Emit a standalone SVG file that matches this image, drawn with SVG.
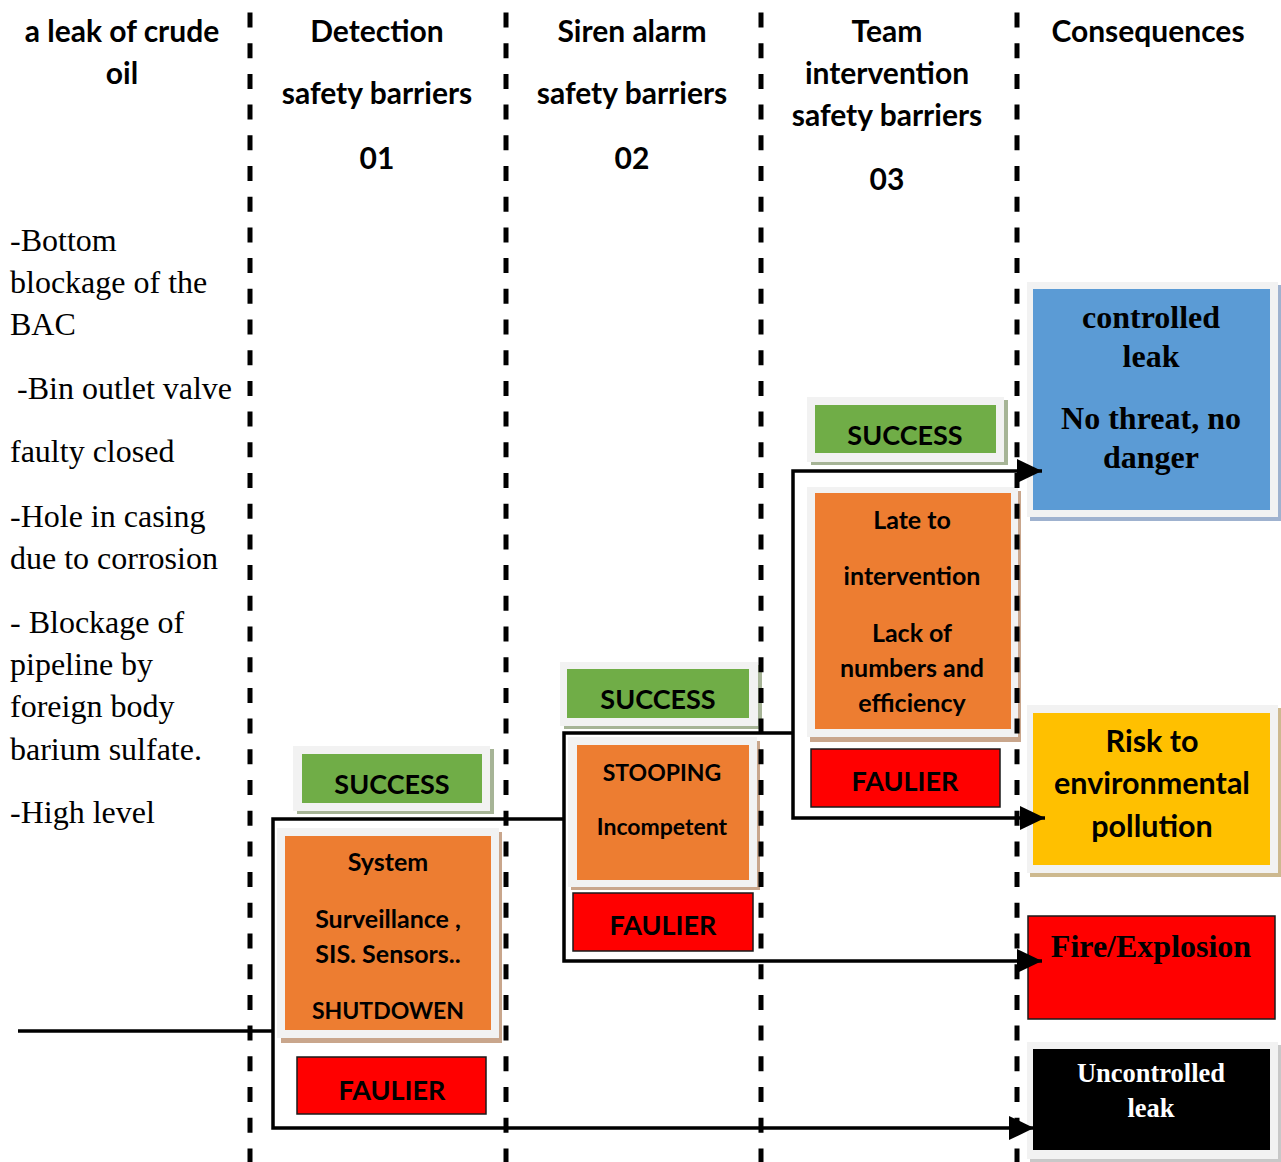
<svg xmlns="http://www.w3.org/2000/svg" width="1281" height="1162" viewBox="0 0 1281 1162">
  <defs>
    <style>
      .hdr { font-family: Lato, "Open Sans", sans-serif; font-weight: bold; font-size: 30px; fill: #000; text-anchor: middle; }
      .cause { font-family: "Liberation Serif", "Times New Roman", serif; font-size: 32px; fill: #000; }
      .lbl { font-family: Lato, "Open Sans", sans-serif; font-weight: bold; font-size: 27px; fill: #000; text-anchor: middle; }
      .small { font-family: Lato, "Open Sans", sans-serif; font-weight: bold; font-size: 25px; fill: #000; text-anchor: middle; }
      .serif { font-family: "Liberation Serif", "Times New Roman", serif; font-weight: bold; fill: #000; text-anchor: middle; }
      .frame { fill: #f2f2f2; }
      .green { fill: #70ad47; }
      .orange { fill: #ed7d31; }
      .fail { fill: #ff0000; stroke: #1a1a1a; stroke-width: 1.5; }
      .divider { stroke: #000; stroke-width: 5; stroke-dasharray: 15 15.7; stroke-dashoffset: -12.5; fill: none; }
      .conn { stroke: #000; stroke-width: 3.5; fill: none; stroke-linejoin: miter; }
    </style>
    <marker id="arrow" markerUnits="userSpaceOnUse" markerWidth="26" markerHeight="26" refX="25" refY="12" orient="auto">
      <path d="M0,0 L25,12 L0,24 Z" fill="#000"/>
    </marker>
  </defs>

  <!-- column headers -->
  <g id="headers">
    <text class="hdr" x="122" y="42">a leak of crude</text>
    <text class="hdr" x="122" y="84">oil</text>
    <text class="hdr" x="377" y="42">Detection</text>
    <text class="hdr" x="377" y="104">safety barriers</text>
    <text class="hdr" x="377" y="169">01</text>
    <text class="hdr" x="632" y="42">Siren alarm</text>
    <text class="hdr" x="632" y="104">safety barriers</text>
    <text class="hdr" x="632" y="169">02</text>
    <text class="hdr" x="887" y="42">Team</text>
    <text class="hdr" x="887" y="84">intervention</text>
    <text class="hdr" x="887" y="126">safety barriers</text>
    <text class="hdr" x="887" y="190">03</text>
    <text class="hdr" x="1148" y="42">Consequences</text>
  </g>

  <!-- initiating causes -->
  <g id="causes">
    <text class="cause" x="10" y="251">-Bottom</text>
    <text class="cause" x="10" y="293">blockage of the</text>
    <text class="cause" x="10" y="335">BAC</text>
    <text class="cause" x="17" y="399">-Bin outlet valve</text>
    <text class="cause" x="10" y="462">faulty closed</text>
    <text class="cause" x="10" y="527">-Hole in casing</text>
    <text class="cause" x="10" y="569">due to corrosion</text>
    <text class="cause" x="10" y="633">- Blockage of</text>
    <text class="cause" x="10" y="675">pipeline by</text>
    <text class="cause" x="10" y="717">foreign body</text>
    <text class="cause" x="10" y="760">barium sulfate.</text>
    <text class="cause" x="10" y="823">-High level</text>
  </g>

  <!-- barrier 01 -->
  <g id="success-01">
    <rect x="297" y="749" width="197" height="65" fill="#a6b496"/>
    <rect class="frame" x="293" y="746" width="197" height="65"/>
    <rect class="green" x="302" y="754" width="180" height="49"/>
    <text class="lbl" x="392" y="794">SUCCESS</text>
  </g>
  <g id="barrier-01">
    <rect x="281" y="832" width="221" height="211" fill="#c9a68c"/>
    <rect class="frame" x="277" y="828" width="222" height="210"/>
    <rect class="orange" x="285" y="836" width="206" height="194"/>
    <text class="small" x="388" y="871">System</text>
    <text class="small" x="388" y="928">Surveillance ,</text>
    <text class="small" x="388" y="963">SIS. Sensors..</text>
    <text class="small" x="388" y="1019" style="font-size:23px">SHUTDOWEN</text>
  </g>
  <g id="failure-01">
    <rect class="fail" x="297" y="1057" width="189" height="57"/>
    <text class="lbl" x="392" y="1100">FAULIER</text>
  </g>

  <!-- barrier 02 -->
  <g id="success-02">
    <rect x="564" y="665" width="198" height="64" fill="#a6b496"/>
    <rect class="frame" x="560" y="662" width="198" height="64"/>
    <rect class="green" x="567" y="669" width="182" height="49"/>
    <text class="lbl" x="658" y="709">SUCCESS</text>
  </g>
  <g id="barrier-02">
    <rect x="571" y="741" width="189" height="149" fill="#c9a68c"/>
    <rect class="frame" x="568" y="737" width="189" height="150"/>
    <rect class="orange" x="577" y="745" width="172" height="135"/>
    <text class="small" x="662" y="781" style="font-size:23px">STOOPING</text>
    <text class="small" x="662" y="835" style="font-size:23px">Incompetent</text>
  </g>
  <g id="failure-02">
    <rect class="fail" x="573" y="893" width="180" height="58"/>
    <text class="lbl" x="663" y="935">FAULIER</text>
  </g>

  <!-- barrier 03 -->
  <g id="success-03">
    <rect x="811" y="400" width="197" height="65" fill="#a6b496"/>
    <rect class="frame" x="807" y="397" width="197" height="65"/>
    <rect class="green" x="815" y="405" width="181" height="48"/>
    <text class="lbl" x="905" y="445">SUCCESS</text>
  </g>
  <g id="barrier-03">
    <rect x="810" y="491" width="211" height="251" fill="#c9a68c"/>
    <rect class="frame" x="807" y="487" width="211" height="250"/>
    <rect class="orange" x="815" y="493" width="196" height="236"/>
    <text class="small" x="912" y="529">Late to</text>
    <text class="small" x="912" y="585">intervention</text>
    <text class="small" x="912" y="642">Lack of</text>
    <text class="small" x="912" y="677">numbers and</text>
    <text class="small" x="912" y="712">efficiency</text>
  </g>
  <g id="failure-03">
    <rect class="fail" x="811" y="749" width="189" height="58"/>
    <text class="lbl" x="905" y="791">FAULIER</text>
  </g>

  <!-- consequences -->
  <g id="controlled-leak">
    <rect x="1030" y="285" width="251" height="236" fill="#9fb2cf"/>
    <rect class="frame" x="1027" y="282" width="251" height="235"/>
    <rect x="1033" y="289" width="237" height="221" fill="#5b9bd5"/>
    <text class="serif" x="1151" y="328" font-size="32">controlled</text>
    <text class="serif" x="1151" y="367" font-size="32">leak</text>
    <text class="serif" x="1151" y="429" font-size="32">No threat, no</text>
    <text class="serif" x="1151" y="468" font-size="32">danger</text>
  </g>
  <g id="environmental-risk">
    <rect x="1030" y="708" width="251" height="169" fill="#cdb98f"/>
    <rect class="frame" x="1027" y="705" width="251" height="168"/>
    <rect x="1033" y="713" width="237" height="152" fill="#ffc000"/>
    <text class="lbl" x="1152" y="752" style="font-size:30.5px">Risk to</text>
    <text class="lbl" x="1152" y="794" style="font-size:30.5px">environmental</text>
    <text class="lbl" x="1152" y="837" style="font-size:30.5px">pollution</text>
  </g>
  <g id="fire-explosion">
    <rect class="fail" x="1028" y="916" width="247" height="103"/>
    <text class="serif" x="1151" y="957" font-size="32">Fire/Explosion</text>
  </g>
  <g id="uncontrolled-leak">
    <rect x="1030" y="1045" width="251" height="117" fill="#c8c8c8"/>
    <rect class="frame" x="1027" y="1042" width="251" height="117"/>
    <rect x="1033" y="1049" width="237" height="101" fill="#000"/>
    <text class="serif" x="1151" y="1082" font-size="26.5" style="fill:#fff">Uncontrolled</text>
    <text class="serif" x="1151" y="1117" font-size="26.5" style="fill:#fff">leak</text>
  </g>

  <!-- column dividers -->
  <g id="dividers">
    <line class="divider" x1="250" y1="0" x2="250" y2="1162"/>
    <line class="divider" x1="506" y1="0" x2="506" y2="1162"/>
    <line class="divider" x1="761" y1="0" x2="761" y2="1162"/>
    <line class="divider" x1="1017" y1="0" x2="1017" y2="1162"/>
  </g>

  <!-- event tree branches -->
  <g id="connectors">
    <path class="conn" d="M18,1031 H273"/>
    <path class="conn" d="M564,819 H273 V1128 H1034" marker-end="url(#arrow)"/>
    <path class="conn" d="M793,733 H564 V961 H1042" marker-end="url(#arrow)"/>
    <path class="conn" d="M793,733 V471 H1042" marker-end="url(#arrow)"/>
    <path class="conn" d="M793,733 V818 H1045" marker-end="url(#arrow)"/>
  </g>
</svg>
